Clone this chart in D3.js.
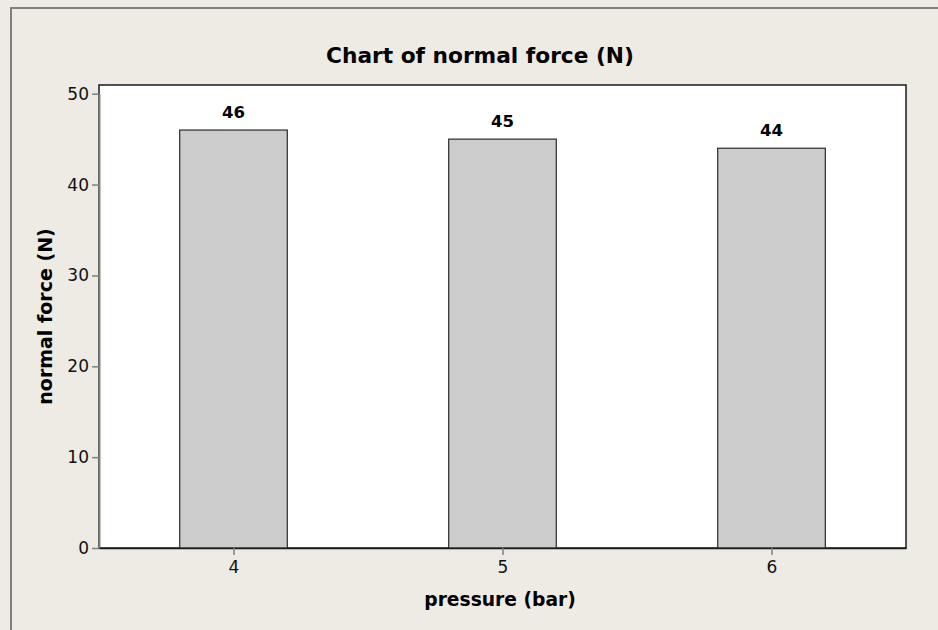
<!DOCTYPE html>
<html>
<head>
<meta charset="utf-8">
<script src="https://cdn.jsdelivr.net/npm/d3@7"></script>
<style>
  body { margin: 0; background: #eeeae4; }
  svg { display: block; }
</style>
</head>
<body>
<svg id="chart" width="938" height="630"></svg>
<script>
// data
var pressures = ["4", "5", "6"];
var forces = [46, 45, 44];
var yTicks = [0, 10, 20, 30, 40, 50];

var W = 938, H = 630;
var plot = {left: 99, top: 85, right: 906, bottom: 548};
var font = "Tahoma, 'DejaVu Sans', Verdana, sans-serif";

var svg = d3.select("#chart");

// background + outer frame
svg.append("rect")
    .attr("width", W).attr("height", H)
    .style("fill", "#eeeae4");
svg.append("rect")
    .attr("x", 11).attr("y", 8)
    .attr("width", W + 20).attr("height", H + 20)
    .style("fill", "none")
    .style("stroke", "#808080")
    .style("stroke-width", "2px");

// plot area
svg.append("rect")
    .attr("x", plot.left).attr("y", plot.top)
    .attr("width", plot.right - plot.left)
    .attr("height", plot.bottom - plot.top)
    .style("fill", "#ffffff")
    .style("stroke", "#1a1a1a")
    .style("stroke-width", "1.5px");

var x = d3.scalePoint()
    .domain(pressures)
    .range([plot.left, plot.right])
    .padding(0.5);

var y = d3.scaleLinear()
    .domain([0, 50])
    .range([plot.bottom, 93.7]);

var barW = x.step() * 0.4;
var data = pressures.map(function(p, i){ return {p: p, v: forces[i]}; });

// bars
svg.selectAll(".bar")
    .data(data)
    .enter().append("rect")
    .attr("class", "bar")
    .attr("x", function(d){ return x(d.p) - barW / 2; })
    .attr("y", function(d){ return y(d.v); })
    .attr("width", barW)
    .attr("height", function(d){ return y(0) - y(d.v); })
    .style("fill", "#cccccc")
    .style("stroke", "#2b2b2b")
    .style("stroke-width", "1.2px");

// value labels
svg.selectAll(".val")
    .data(data)
    .enter().append("text")
    .attr("class", "val")
    .attr("x", function(d){ return x(d.p); })
    .attr("y", function(d){ return y(d.v) - 12; })
    .attr("text-anchor", "middle")
    .style("font-family", font)
    .style("font-weight", "bold")
    .style("font-size", "16.5px")
    .text(function(d){ return d.v; });

// axes
var yAxis = svg.append("g")
    .attr("transform", "translate(" + plot.left + ",0)")
    .call(d3.axisLeft(y).tickValues(yTicks).tickSize(7).tickSizeOuter(0).tickPadding(3));
var xAxis = svg.append("g")
    .attr("transform", "translate(0," + plot.bottom + ")")
    .call(d3.axisBottom(x).tickSize(7).tickSizeOuter(0).tickPadding(6));

yAxis.select(".domain").style("stroke", "#808080").style("stroke-width", "2px");
xAxis.select(".domain").style("stroke", "#1a1a1a").style("stroke-width", "1.5px");
svg.selectAll(".tick line").style("stroke", "#808080").style("stroke-width", "1.5px");
svg.selectAll(".tick text")
    .style("font-family", font)
    .style("font-size", "17px")
    .style("fill", "#111");

// title and axis labels
svg.append("text")
    .attr("x", 480).attr("y", 63)
    .attr("text-anchor", "middle")
    .style("font-family", font)
    .style("font-weight", "bold")
    .style("font-size", "21.7px")
    .text("Chart of normal force (N)");

svg.append("text")
    .attr("x", 500).attr("y", 606)
    .attr("text-anchor", "middle")
    .style("font-family", font)
    .style("font-weight", "bold")
    .style("font-size", "18.7px")
    .text("pressure (bar)");

svg.append("text")
    .attr("transform", "translate(52," + (plot.top + plot.bottom) / 2 + ") rotate(-90)")
    .attr("text-anchor", "middle")
    .style("font-family", font)
    .style("font-weight", "bold")
    .style("font-size", "19px")
    .text("normal force (N)");
</script>
</body>
</html>
